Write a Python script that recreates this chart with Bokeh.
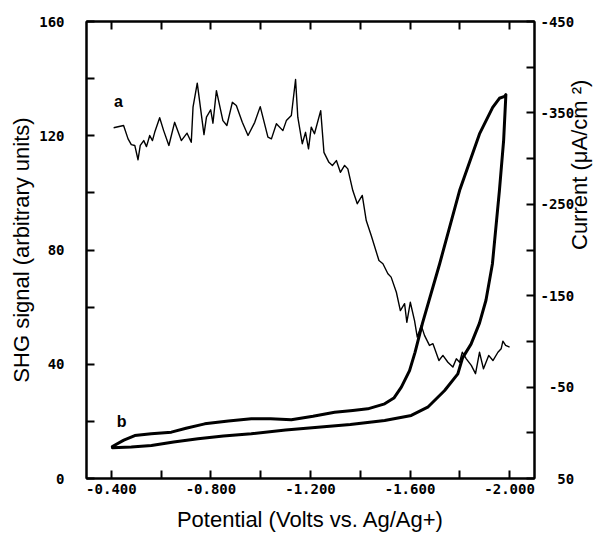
import math
from bokeh.plotting import figure
from bokeh.models import (Range1d, LinearAxis, FixedTicker, PrintfTickFormatter,
                          CustomJSTickFormatter, Label)
from bokeh.embed import file_html
from bokeh.resources import INLINE

# Curve a: SHG signal (arbitrary units) vs potential (V)
shg_potential = [-0.409, -0.449, -0.467, -0.480, -0.494, -0.507, -0.516, -0.530, -0.541, -0.554,
                 -0.565, -0.574, -0.594, -0.610, -0.631, -0.654, -0.681, -0.704, -0.721, -0.728,
                 -0.745, -0.772, -0.782, -0.799, -0.808, -0.822, -0.848, -0.864, -0.886, -0.902,
                 -0.926, -0.949, -0.976, -0.998, -1.029, -1.043, -1.063, -1.089, -1.103, -1.123,
                 -1.140, -1.149, -1.167, -1.180, -1.192, -1.203, -1.216, -1.241, -1.254, -1.274,
                 -1.288, -1.304, -1.320, -1.337, -1.350, -1.370, -1.388, -1.408, -1.424, -1.444,
                 -1.475, -1.491, -1.511, -1.524, -1.545, -1.561, -1.578, -1.587, -1.601, -1.618,
                 -1.629, -1.645, -1.658, -1.678, -1.692, -1.716, -1.732, -1.752, -1.772, -1.786,
                 -1.799, -1.810, -1.826, -1.846, -1.863, -1.879, -1.895, -1.916, -1.933, -1.953,
                 -1.966, -1.973, -1.984, -2.000]
shg_signal = [122.8, 123.6, 118.9, 116.9, 116.6, 111.6, 116.6, 118.3, 116.2, 120.1,
              118.3, 121.2, 126.3, 121.8, 116.6, 124.7, 118.3, 120.9, 117.7, 130.0,
              138.4, 120.4, 126.5, 129.1, 124.4, 135.8, 125.3, 123.6, 131.7, 130.6,
              124.7, 120.1, 124.7, 130.2, 119.5, 118.9, 124.2, 121.8, 125.3, 127.1,
              139.7, 126.5, 117.2, 121.2, 115.4, 123.0, 120.7, 128.8, 114.2, 110.7,
              109.6, 111.3, 107.2, 109.6, 108.4, 100.8, 96.2, 99.1, 90.3, 85.1,
              76.3, 75.2, 71.7, 70.5, 65.2, 58.8, 61.2, 54.7, 61.7, 55.3,
              49.5, 53.6, 50.1, 46.6, 47.2, 41.3, 43.1, 40.7, 39.0, 41.9,
              40.7, 44.2, 41.9, 39.6, 36.7, 44.2, 38.4, 43.1, 41.3, 44.2,
              45.4, 48.1, 46.6, 46.0]

# Curve b: cyclic voltammogram, current (uA/cm2) vs potential (V)
cv_potential = [-0.404, -0.45, -0.494, -0.56, -0.641, -0.70, -0.775, -0.87, -0.962, -1.04,
                -1.123, -1.21, -1.297, -1.37, -1.430, -1.498, -1.535, -1.565, -1.598, -1.62,
                -1.650, -1.719, -1.799, -1.879, -1.932, -1.959, -1.980, -1.985,
                -1.976, -1.959, -1.931, -1.905, -1.879, -1.845, -1.811, -1.792, -1.739, -1.671,
                -1.605, -1.498, -1.36, -1.230, -1.10, -0.962, -0.85, -0.748, -0.65, -0.561,
                -0.48, -0.404]
cv_current = [15, 8, 3, 1, -0.7, -5, -9.8, -13, -15.3, -15.5,
              -14.2, -18, -22.5, -24.5, -26.2, -31.7, -38, -49.9, -68, -88,
              -120, -185, -265, -327, -356, -366, -368, -370,
              -320, -265, -185, -145, -120, -97, -82, -64.5, -46.3, -28,
              -19, -13.5, -9, -6.1, -3, 1.1, 3.5, 6.6, 10, 13.9,
              15.5, 16.4]

x_ticks = [-0.4, -0.8, -1.2, -1.6, -2.0]
x_unlabeled = [-0.6, -1.0, -1.4, -1.8]
shg_ticks = [0, 40, 80, 120, 160]
shg_unlabeled = [20, 60, 100, 140]
cur_ticks = [50, -50, -150, -250, -350, -450]
cur_labels = ["\u00a0\u00a050", "\u00a0-50", "-150", "-250", "-350", "-450"]
cur_unlabeled = [0, -100, -200, -300, -400]

curve_labels = ["a", "b"]
curve_label_x = [-0.428, -0.441]
curve_label_y = [132, 20]

TICK_FONT = "DejaVu Sans Mono"
TITLE_FONT = "Liberation Sans"

p = figure(width=609, height=536, x_range=Range1d(-0.3, -2.1), y_range=Range1d(0, 160),
           output_backend="svg", toolbar_location=None,
           x_axis_location=None, y_axis_location=None,
           min_border_left=86, min_border_right=75, min_border_top=21, min_border_bottom=58)
p.extra_y_ranges = {"cur": Range1d(50, -450)}
p.grid.grid_line_color = None
p.outline_line_color = "black"
p.outline_line_width = 2
p.background_fill_color = "white"
p.border_fill_color = "white"


def style(ax):
    ax.axis_line_width = 2
    ax.axis_line_color = "black"
    ax.major_tick_in = 8
    ax.major_tick_out = 0
    ax.minor_tick_line_color = None
    ax.major_tick_line_width = 2
    ax.major_tick_line_color = "black"
    ax.major_label_text_font = TICK_FONT
    ax.major_label_text_font_style = "bold"
    ax.major_label_text_font_size = "14px"
    ax.major_label_text_color = "black"
    ax.axis_label_text_font = TITLE_FONT
    ax.axis_label_text_font_style = "normal"
    ax.axis_label_text_font_size = "22px"
    ax.axis_label_text_color = "black"


all_x = sorted(x_ticks + x_unlabeled, reverse=True)
xb = LinearAxis(ticker=FixedTicker(ticks=all_x),
                formatter=PrintfTickFormatter(format="%.3f"),
                major_label_overrides={v: "" for v in x_unlabeled},
                axis_label="Potential (Volts vs. Ag/Ag+)")
style(xb)
xb.major_label_standoff = 5
xb.axis_label_standoff = 10
p.add_layout(xb, "below")

xt = LinearAxis(ticker=FixedTicker(ticks=all_x),
                formatter=CustomJSTickFormatter(code="return ''"))
style(xt)
xt.major_label_text_font_size = "1px"
xt.major_label_standoff = 0
p.add_layout(xt, "above")

yl = LinearAxis(ticker=FixedTicker(ticks=sorted(shg_ticks + shg_unlabeled)),
                major_label_overrides={v: "" for v in shg_unlabeled},
                axis_label="SHG signal (arbitrary units)")
style(yl)
yl.major_label_standoff = 22
yl.axis_label_standoff = 2
p.add_layout(yl, "left")

overrides = dict(zip(cur_ticks, cur_labels))
overrides.update({v: "" for v in cur_unlabeled})
yr = LinearAxis(y_range_name="cur", ticker=FixedTicker(ticks=sorted(cur_ticks + cur_unlabeled)),
                major_label_overrides=overrides,
                axis_label="Current (\u03bcA/cm \u00b2)")
style(yr)
yr.major_label_standoff = 6
yr.axis_label_standoff = 2
try:
    yr.axis_label_orientation = math.pi / 2
except Exception:
    pass
p.add_layout(yr, "right")

p.line(shg_potential, shg_signal, line_color="black", line_width=1.4, line_join="round")
p.line(cv_potential, cv_current, y_range_name="cur", line_color="black", line_width=3,
       line_join="round", line_cap="round")

for t, lx, ly in zip(curve_labels, curve_label_x, curve_label_y):
    p.add_layout(Label(x=lx, y=ly, text=t, text_font=TITLE_FONT, text_font_size="16px",
                       text_font_style="bold", text_align="center", text_baseline="middle",
                       text_color="black"))

open("out.html", "w").write(file_html(p, INLINE))
